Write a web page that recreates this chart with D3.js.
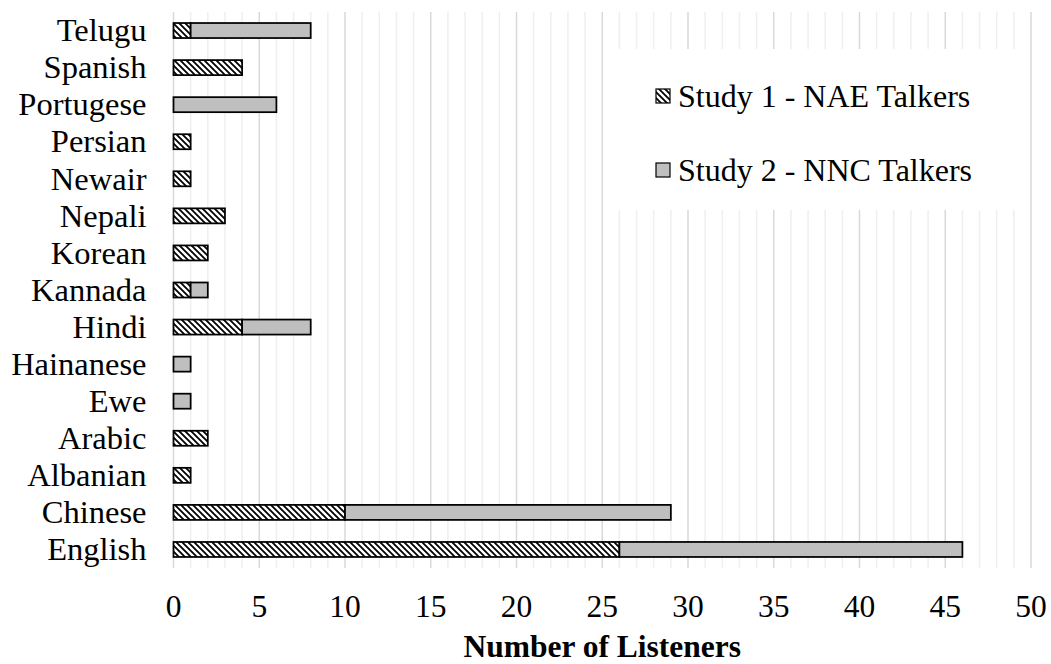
<!DOCTYPE html>
<html>
<head>
<meta charset="utf-8">
<script src="https://cdn.jsdelivr.net/npm/d3@7"></script>
<style>
  html, body { margin: 0; padding: 0; background: #ffffff; }
  svg text { font-family: "Liberation Serif", "Times New Roman", Tinos, serif; fill: #000; }
</style>
</head>
<body>
<svg id="chart" width="1051" height="664"></svg>
<script>
// Listener first languages, listed bottom to top
const languages = ["English", "Chinese", "Albanian", "Arabic", "Ewe", "Hainanese", "Hindi",
  "Kannada", "Korean", "Nepali", "Newair", "Persian", "Portugese", "Spanish", "Telugu"];
const study1NAE = [26, 10, 1, 2, 0, 0, 4, 1, 2, 3, 1, 1, 0, 4, 1];
const study2NNC = [20, 19, 0, 0, 1, 1, 4, 1, 0, 0, 0, 0, 6, 0, 7];
const seriesNames = ["Study 1 - NAE Talkers", "Study 2 - NNC Talkers"];
const xTicks = [0, 5, 10, 15, 20, 25, 30, 35, 40, 45, 50];

const svg = d3.select("#chart");
const plot = { left: 173.5, right: 1031, top: 12, bottom: 568 };

const x = d3.scaleLinear().domain([0, 50]).range([plot.left, plot.right]);
const y = d3.scaleBand()
  .domain(languages.slice().reverse())
  .range([plot.top, plot.bottom])
  .paddingInner(0.595)
  .paddingOuter(0.2975);

// Hatch fill for the first study
const defs = svg.append("defs");
const hatch = defs.append("pattern")
  .attr("id", "hatch")
  .attr("patternUnits", "userSpaceOnUse")
  .attr("width", 6).attr("height", 6);
hatch.append("rect").attr("width", 6).attr("height", 6).attr("fill", "#fff");
hatch.append("path")
  .attr("d", "M-1,-1 L7,7 M-4,2 L1,7 M2,-4 L7,1")
  .attr("stroke", "#000").attr("stroke-width", 1.8);

const fills = ["url(#hatch)", "#bfbfbf"];

// Minor and major vertical gridlines
const minor = d3.range(0, 51).filter(v => v % 5 !== 0);
svg.append("g").selectAll("line").data(minor).join("line")
  .attr("x1", d => x(d)).attr("x2", d => x(d))
  .attr("y1", plot.top).attr("y2", plot.bottom)
  .attr("stroke", "#efefef").attr("stroke-width", 1.5);
svg.append("g").selectAll("line").data(xTicks).join("line")
  .attr("x1", d => x(d)).attr("x2", d => x(d))
  .attr("y1", plot.top).attr("y2", plot.bottom)
  .attr("stroke", "#d9d9d9").attr("stroke-width", 1.5);

// Stacked bars
const rows = languages.map((lang, i) => ({ lang, vals: [study1NAE[i], study2NNC[i]] }));
const segs = [];
rows.forEach(r => {
  let acc = 0;
  r.vals.forEach((v, s) => {
    if (v > 0) segs.push({ lang: r.lang, s, x0: acc, x1: acc + v });
    acc += v;
  });
});
svg.append("g").selectAll("rect").data(segs).join("rect")
  .attr("x", d => x(d.x0))
  .attr("y", d => y(d.lang))
  .attr("width", d => x(d.x1) - x(d.x0))
  .attr("height", y.bandwidth())
  .attr("fill", d => fills[d.s])
  .attr("stroke", "#000")
  .attr("stroke-width", 1.75);

// Category labels
svg.append("g").selectAll("text").data(languages).join("text")
  .attr("x", plot.left - 27)
  .attr("y", d => y(d) + y.bandwidth() / 2)
  .attr("dy", "0.33em")
  .attr("text-anchor", "end")
  .style("font-size", "32.5px")
  .text(d => d);

// Value axis tick labels
svg.append("g").selectAll("text").data(xTicks).join("text")
  .attr("x", d => x(d))
  .attr("y", 617)
  .attr("text-anchor", "middle")
  .style("font-size", "31.5px")
  .text(d => d);

// Axis title
svg.append("text")
  .attr("x", (plot.left + plot.right) / 2)
  .attr("y", 657)
  .attr("text-anchor", "middle")
  .style("font-size", "31.5px")
  .style("font-weight", "bold")
  .text("Number of Listeners");

// Legend
const legend = svg.append("g");
legend.append("rect")
  .attr("x", 607).attr("y", 49).attr("width", 422).attr("height", 161)
  .attr("fill", "#fff");
const legendRows = [96, 170];
seriesNames.forEach((name, i) => {
  legend.append("rect")
    .attr("x", 656).attr("y", legendRows[i] - 7)
    .attr("width", 14).attr("height", 14)
    .attr("fill", fills[i]).attr("stroke", "#000").attr("stroke-width", 1.2);
  legend.append("text")
    .attr("x", 678).attr("y", legendRows[i])
    .attr("dy", "0.33em")
    .style("font-size", "32px")
    .text(name);
});
</script>
</body>
</html>
